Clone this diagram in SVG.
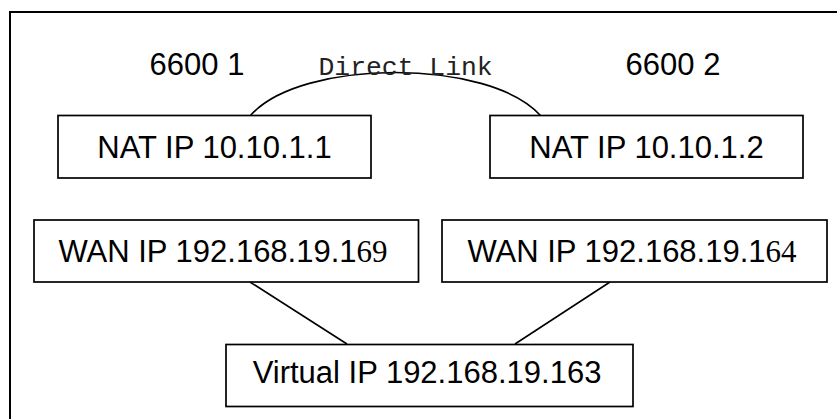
<svg xmlns="http://www.w3.org/2000/svg" width="837" height="419" viewBox="0 0 837 419">
<style>
.box{fill:#fff;stroke:#000;stroke-width:1.7}
.lbl{font-family:"Liberation Sans",Arial,sans-serif;font-size:31px;fill:#000;text-anchor:middle}
.ser{font-family:"Liberation Serif","Times New Roman",serif}
.wire{fill:none;stroke:#000;stroke-width:1.6}
</style>
<rect width="837" height="419" fill="#fff"/>
<g id="frame"><path d="M10,419 V12 H837" fill="none" stroke="#000" stroke-width="2"/></g>
<g id="connectors">
<path class="wire" d="M250,116 C300,58 490,58 541,116"/>
<line class="wire" x1="250" y1="282" x2="347" y2="344"/>
<line class="wire" x1="610" y1="282" x2="515" y2="344"/>
</g>
<g id="label-6600-1"><text class="lbl" x="197" y="75">6600 1</text></g>
<g id="label-direct"><text x="318.5" y="74.5" font-family="'Liberation Mono','Courier New',monospace" font-size="26.4" fill="#222">Direct Link</text></g>
<g id="label-6600-2"><text class="lbl" x="673" y="75">6600 2</text></g>
<g id="nat1"><rect class="box" x="58" y="115.5" width="313" height="62.5"/><text class="lbl" x="214.5" y="158">NAT IP 10.10.1.1</text></g>
<g id="nat2"><rect class="box" x="490" y="115.5" width="313" height="62.5"/><text class="lbl" x="646.5" y="158">NAT IP 10.10.1.2</text></g>
<g id="wan1"><rect class="box" x="34" y="220" width="384.5" height="62"/><text class="lbl" x="223" y="262" font-size="31.5">WAN IP 192.168.19.1<tspan class="ser">69</tspan></text></g>
<g id="wan2"><rect class="box" x="442" y="220" width="385" height="62"/><text class="lbl" x="632" y="262" font-size="31.5">WAN IP 192.168.19.1<tspan class="ser">64</tspan></text></g>
<g id="virtual"><rect class="box" x="226" y="344.5" width="407" height="62"/><text class="lbl" x="427" y="382.5">Virtual IP 192.168.19.163</text></g>
</svg>
